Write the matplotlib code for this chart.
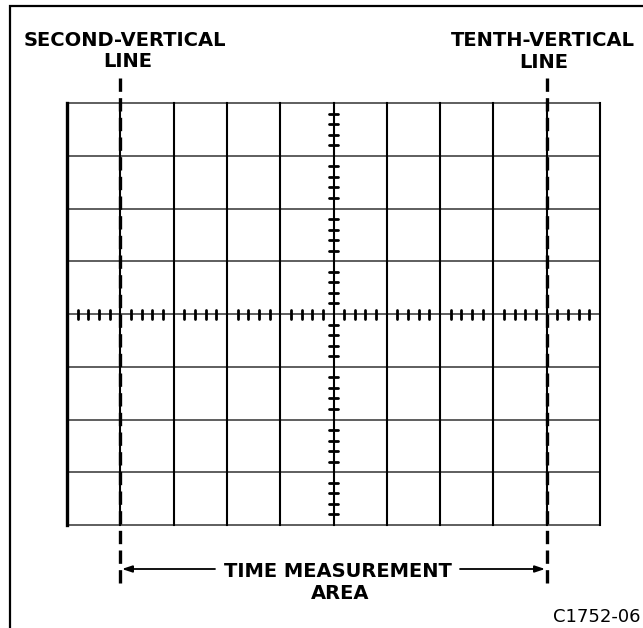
import matplotlib
matplotlib.use("Agg")
import matplotlib.pyplot as plt
import numpy as np

# ---- data (graticule description) ----
h_divisions = 10          # horizontal major divisions
v_divisions = 8           # vertical major divisions
minor_per_div = 5         # minor ticks per division on centre axes
marker_lines = [1, 9]     # second and tenth vertical lines (0-based index)
top_labels = [("SECOND-VERTICAL", "LINE"), ("TENTH-VERTICAL", "LINE")]
area_label = ("TIME MEASUREMENT", "AREA")
figure_id = "C1752-06"

W, H, DPI = 643, 628, 100
fig = plt.figure(figsize=(W / DPI, H / DPI), dpi=DPI)
ax = fig.add_axes([0, 0, 1, 1])
ax.set_axis_off()

# map: grid spans px 67..600 horizontally, centred at px 314 vertically
px_per_x = (600 - 67) / h_divisions
px_per_y = (525 - 103) / v_divisions
x0 = -67 / px_per_x
x1 = (W - 67) / px_per_x
ytop = 314 / px_per_y
ax.set_xlim(x0, x1)
ax.set_ylim(-ytop, ytop)

def px2x(p):
    return (p - 67) / px_per_x

def py2y(p):
    return ytop - p / px_per_y

font = "DejaVu Sans"
fs = 14

# outer frame (left and top edges visible)
fx = px2x(10)
fy = py2y(6)
ax.plot([fx, fx, x1 + 1], [-ytop - 1, fy, fy], color="black", lw=1.6,
        solid_joinstyle="miter")

half_v = v_divisions / 2
# horizontal grid lines
for j in range(v_divisions + 1):
    y = -half_v + j
    ax.plot([0, h_divisions], [y, y], color="#333333", lw=1.1)
# vertical grid lines
for i in range(h_divisions + 1):
    lw = 2.4 if i == 0 else 1.5
    ax.plot([i, i], [-half_v, half_v], color="black", lw=lw)

# minor ticks on centre axes
cx = h_divisions / 2
tick_h = 4.5 / px_per_y
tick_w = 4.5 / px_per_x
xs = np.arange(0, h_divisions * minor_per_div + 1) / minor_per_div
for k, x in enumerate(xs):
    if k % minor_per_div:
        ax.plot([x, x], [-tick_h, tick_h], color="black", lw=2.0,
                solid_capstyle="round")
ys = np.arange(0, v_divisions * minor_per_div + 1) / minor_per_div - half_v
for k, y in enumerate(ys):
    if k % minor_per_div:
        ax.plot([cx - tick_w, cx + tick_w], [y, y], color="black", lw=2.0,
                solid_capstyle="round")

# dashed marker lines
for m in marker_lines:
    ax.plot([m, m], [py2y(78), py2y(585)], color="black", lw=2.4,
            linestyle=(0, (4.0, 1.9)))

# top labels
label_px = [(125, 128), (543, 544)]
label_base = [(46, 67), (46.5, 67.5)]
for (l1, l2), (c1, c2), (b1, b2) in zip(top_labels, label_px, label_base):
    ax.text(px2x(c1), py2y(b1), l1, ha="center", va="baseline", fontsize=fs,
            fontweight="bold", family=font)
    ax.text(px2x(c2), py2y(b2), l2, ha="center", va="baseline", fontsize=fs,
            fontweight="bold", family=font)

# time measurement arrows
ya = py2y(569)
arrowprops = dict(arrowstyle="-|>,head_length=0.6,head_width=0.2",
                  color="black", lw=1.3, shrinkA=0, shrinkB=0)
ax.annotate("", xy=(marker_lines[0] + 0.03, ya), xytext=(px2x(215), ya),
            arrowprops=arrowprops)
ax.annotate("", xy=(marker_lines[1] - 0.03, ya), xytext=(px2x(460), ya),
            arrowprops=arrowprops)
ax.text(px2x(337.5), py2y(577), area_label[0], ha="center", va="baseline",
        fontsize=fs, fontweight="bold", family=font)
ax.text(px2x(340), py2y(599), area_label[1], ha="center", va="baseline",
        fontsize=fs, fontweight="bold", family=font)

# figure id
ax.text(px2x(640), py2y(622), figure_id, ha="right", va="baseline",
        fontsize=13, family=font)

fig.savefig("out.png", dpi=DPI, facecolor="white")
